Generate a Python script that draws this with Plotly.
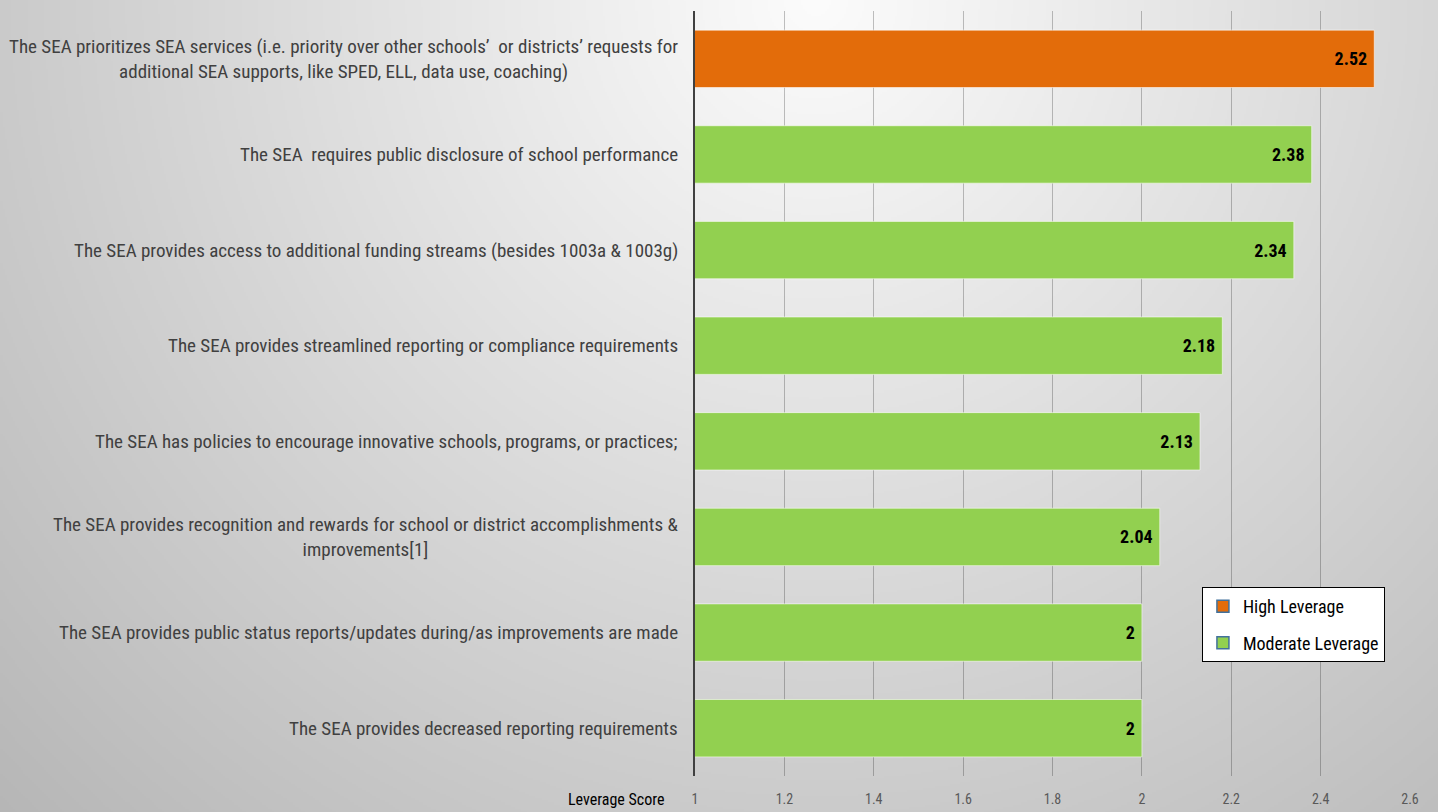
import base64
import struct
import zlib

import numpy as np
import plotly.graph_objects as go

# ---- data -------------------------------------------------------------
categories = [
    "The SEA prioritizes SEA services (i.e. priority over other schools’  or districts’ requests for<br>additional SEA supports, like SPED, ELL, data use, coaching)",
    "The SEA  requires public disclosure of school performance",
    "The SEA provides access to additional funding streams (besides 1003a & 1003g)",
    "The SEA provides streamlined reporting or compliance requirements",
    "The SEA has policies to encourage innovative schools, programs, or practices;",
    "The SEA provides recognition and rewards for school or district accomplishments &<br>improvements[1]",
    "The SEA provides public status reports/updates during/as improvements are made",
    "The SEA provides decreased reporting requirements",
]
scores = [2.52, 2.38, 2.34, 2.18, 2.13, 2.04, 2.0, 2.0]
leverage = ["High", "Moderate", "Moderate", "Moderate", "Moderate", "Moderate", "Moderate", "Moderate"]
tick_vals = [1, 1.2, 1.4, 1.6, 1.8, 2, 2.2, 2.4, 2.6]
tick_text = ["1", "1.2", "1.4", "1.6", "1.8", "2", "2.2", "2.4", "2.6"]
legend_names = {"High": "High Leverage", "Moderate": "Moderate Leverage"}

# ---- styling ----------------------------------------------------------
W, H = 1438, 812
M_L, M_R, M_T, M_B = 695, 28, 11, 36
COLORS = {"High": "#E36C0A", "Moderate": "#92D050"}
FONT = "Liberation Sans Narrow, Arial Narrow, Roboto Condensed, Open Sans, sans-serif"


def backdrop_png(w, h, scale):
    """Grey radial backdrop, lighter near the top centre."""
    ys = (np.arange(h) + 0.5) * scale
    xs = (np.arange(w) + 0.5) * scale
    gx, gy = np.meshgrid(xs, ys)
    d = np.hypot(gx - 800, gy - 0)
    g = np.clip(252 - 0.062 * d, 180, 252).astype(np.uint8)
    raw = b"".join(b"\x00" + row.tobytes() for row in g)

    def chunk(tag, data):
        c = tag + data
        return struct.pack(">I", len(data)) + c + struct.pack(">I", zlib.crc32(c) & 0xFFFFFFFF)

    png = (b"\x89PNG\r\n\x1a\n"
           + chunk(b"IHDR", struct.pack(">IIBBBBB", w, h, 8, 0, 0, 0, 0))
           + chunk(b"IDAT", zlib.compress(raw, 9))
           + chunk(b"IEND", b""))
    return "data:image/png;base64," + base64.b64encode(png).decode()


fig = go.Figure()

# bars, one trace per leverage level
for level in ["High", "Moderate"]:
    ys = [c for c, lv in zip(categories, leverage) if lv == level]
    xs = [s for s, lv in zip(scores, leverage) if lv == level]
    fig.add_trace(go.Bar(
        y=ys, x=xs, base=0, orientation="h", width=0.6,
        marker=dict(color=COLORS[level], line=dict(color="rgba(255,255,255,0.55)", width=1)),
        text=[f"{v:g}\u00a0" for v in xs], textposition="inside", insidetextanchor="end",
        textfont=dict(family=FONT, size=18, color="black", weight="bold"),
        constraintext="none", cliponaxis=False,
        showlegend=False, hoverinfo="x+y",
    ))

# legend entries
for level in ["High", "Moderate"]:
    fig.add_trace(go.Bar(
        y=[categories[-1]], x=[None], orientation="h",
        marker=dict(color=COLORS[level], line=dict(color="#41719C", width=1.5)),
        name=legend_names[level], legendgroup=level, showlegend=True,
    ))

# category labels drawn as annotations so wrapped lines stay centred
for c in categories:
    fig.add_annotation(
        x=1, y=c, xref="x", yref="y", text=c, showarrow=False,
        xanchor="right", yanchor="middle", align="center", xshift=-15,
        font=dict(family=FONT, size=19, color="#404040"),
    )

fig.add_annotation(
    x=1, y=0, xref="x", yref="paper", text="Leverage Score", showarrow=False,
    xanchor="right", yanchor="top", xshift=-29, yshift=-12,
    font=dict(family=FONT, size=16, color="black"),
)

pw = W - M_L - M_R
ph = H - M_T - M_B
fig.add_layout_image(dict(
    source=backdrop_png(W // 2, H // 2, 2),
    xref="paper", yref="paper",
    x=-M_L / pw, y=1 + M_T / ph, sizex=W / pw * 1.02, sizey=H / ph * 1.03,
    xanchor="left", yanchor="top", sizing="stretch", layer="below",
))

fig.update_layout(
    width=W, height=H,
    margin=dict(l=M_L, r=M_R, t=M_T, b=M_B, pad=0, autoexpand=False),
    paper_bgcolor="#c8c8c8", plot_bgcolor="rgba(0,0,0,0)",
    barmode="overlay", bargap=0.4,
    font=dict(family=FONT),
    xaxis=dict(
        range=[1, 2.6], tickvals=tick_vals, ticktext=tick_text,
        showgrid=True, gridcolor="rgba(0,0,0,0.24)", gridwidth=1,
        zeroline=False, showline=False, ticks="", automargin=False,
        tickfont=dict(family=FONT, size=14, color="#595959"),
        ticklabelstandoff=13,
    ),
    yaxis=dict(
        categoryorder="array", categoryarray=categories, autorange="reversed",
        showticklabels=False, showgrid=False, zeroline=False, automargin=False,
        showline=True, linecolor="#404040", linewidth=2, ticks="",
    ),
    legend=dict(
        x=0.709, y=0.247, xanchor="left", yanchor="top",
        bgcolor="white", bordercolor="black", borderwidth=1,
        font=dict(family=FONT, size=18, color="black"),
        traceorder="grouped", tracegroupgap=10, itemwidth=30,
    ),
)

fig.write_html("out.html")
